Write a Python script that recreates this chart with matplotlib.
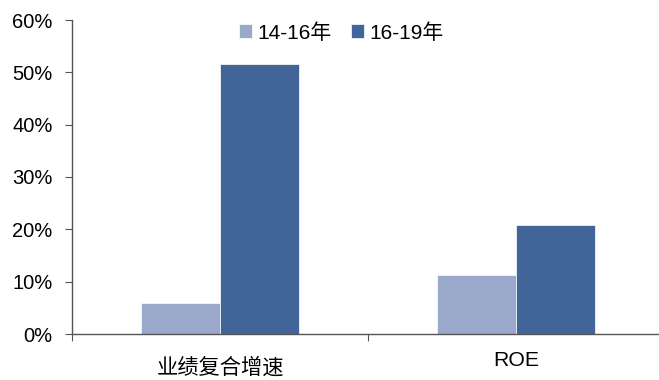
import matplotlib
matplotlib.use("Agg")
import matplotlib.pyplot as plt
import matplotlib.transforms as mtransforms
import numpy as np
from matplotlib.ticker import FuncFormatter

plt.rcParams['font.family'] = ['Liberation Sans', 'Noto Sans CJK SC', 'DejaVu Sans']

categories = ["业绩复合增速", "ROE"]
series_names = ["14-16年", "16-19年"]
v_1416 = [5.9, 11.3]
v_1619 = [51.6, 20.8]
colors = ["#9AA8CB", "#416598"]

fig = plt.figure(figsize=(6.59, 3.8), dpi=100)
ax = fig.add_axes([72/659, 46/380, 592/659, 314/380])

x = np.arange(len(categories))
w = 0.267
ax.bar(x - w/2, v_1416, width=w, color=colors[0], label=series_names[0], edgecolor='white', linewidth=0.5)
ax.bar(x + w/2, v_1619, width=w, color=colors[1], label=series_names[1], edgecolor='white', linewidth=0.5)

ax.set_xlim(-0.5, 1.5)
ax.set_ylim(0, 60)
ax.set_yticks(np.arange(0, 61, 10))
ax.yaxis.set_major_formatter(FuncFormatter(lambda v, p: f"{int(v)}%"))
ax.set_xticks([-0.5, 0.5, 1.5])
ax.set_xticklabels([])
ax.set_xticks(x, minor=True)
ax.set_xticklabels(categories, minor=True, fontsize=15.3, family=['Liberation Sans', 'Noto Sans CJK SC'])
ax.tick_params(axis='x', which='minor', length=0, pad=12)
ax.tick_params(axis='x', which='major', length=5, direction='out', color='#555555')
ax.tick_params(axis='y', length=5, direction='out', labelsize=14.5, color='#555555', pad=9)
for s in ['top', 'right']:
    ax.spines[s].set_visible(False)
for s in ['left', 'bottom']:
    ax.spines[s].set_color('#555555')
    ax.spines[s].set_linewidth(1)

# CJK category label sits slightly lower in the reference
lbl = ax.xaxis.get_minor_ticks()[0].label1
lbl.set_transform(lbl.get_transform() + mtransforms.ScaledTranslation(0, -5/72, fig.dpi_scale_trans))

leg = ax.legend(loc='upper left', bbox_to_anchor=(0.25, 1.05), ncol=2, frameon=False,
                handlelength=0.65, handleheight=0.65, handletextpad=0.25,
                columnspacing=0.9, prop={'family': ['Liberation Sans', 'Noto Sans CJK SC'], 'size': 15})

fig.savefig("out.png", dpi=100)
